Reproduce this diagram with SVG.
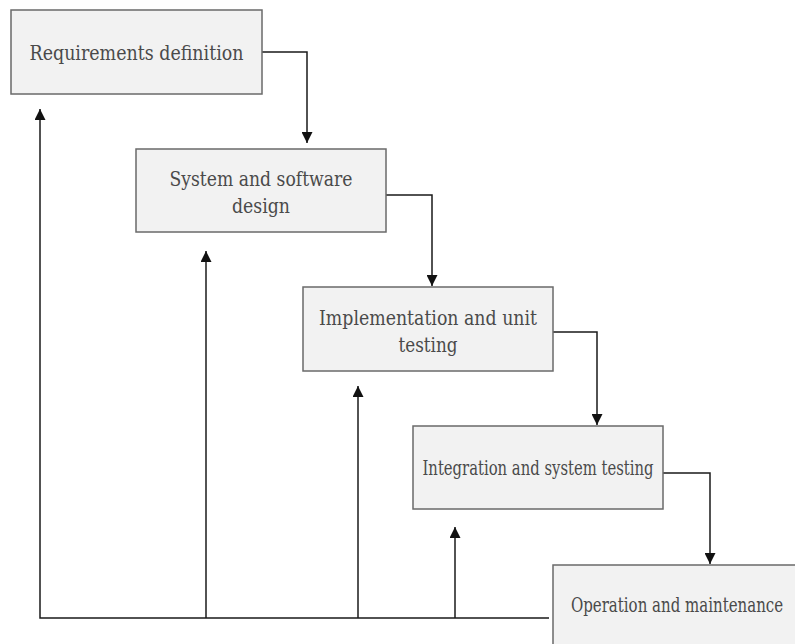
<svg xmlns="http://www.w3.org/2000/svg" width="795" height="644" viewBox="0 0 795 644">
<style>
.box{fill:#f2f2f2;stroke:#6a6a6a;stroke-width:1.5}
.lbl{font-family:"DejaVu Serif","Liberation Serif",Times,serif;font-size:20px;fill:#4a4a4a;text-anchor:middle}
.conn{fill:none;stroke:#1a1a1a;stroke-width:1.5}
</style>
<defs>
<marker id="ah" markerUnits="userSpaceOnUse" markerWidth="11" markerHeight="11" refX="10" refY="5" orient="auto" viewBox="0 0 10 10">
<path d="M0,0 L10,5 L0,10 z" fill="#111"/>
</marker>
</defs>
<rect width="795" height="644" fill="#ffffff"/>
<g id="connectors">
<path class="conn" d="M262,52 H307 V143" marker-end="url(#ah)"/>
<path class="conn" d="M386,195 H432 V286" marker-end="url(#ah)"/>
<path class="conn" d="M553,332 H597 V425" marker-end="url(#ah)"/>
<path class="conn" d="M663,473 H710 V564" marker-end="url(#ah)"/>
<path class="conn" d="M549,618 H40 V109" marker-end="url(#ah)"/>
<path class="conn" d="M206,618 V251" marker-end="url(#ah)"/>
<path class="conn" d="M358,618 V386" marker-end="url(#ah)"/>
<path class="conn" d="M455,618 V527" marker-end="url(#ah)"/>
</g>
<g id="requirements">
<rect class="box" x="11" y="10" width="251" height="84"/>
<text class="lbl" x="136.5" y="60" textLength="214" lengthAdjust="spacingAndGlyphs">Requirements definition</text>
</g>
<g id="design">
<rect class="box" x="136" y="149" width="250" height="83"/>
<text class="lbl" x="261" y="186" textLength="183" lengthAdjust="spacingAndGlyphs">System and software</text>
<text class="lbl" x="261" y="213" textLength="58" lengthAdjust="spacingAndGlyphs">design</text>
</g>
<g id="implementation">
<rect class="box" x="303" y="287" width="250" height="84"/>
<text class="lbl" x="428" y="325" textLength="218" lengthAdjust="spacingAndGlyphs">Implementation and unit</text>
<text class="lbl" x="428" y="352" textLength="59" lengthAdjust="spacingAndGlyphs">testing</text>
</g>
<g id="integration">
<rect class="box" x="413" y="426" width="250" height="83"/>
<text class="lbl" x="538" y="475" textLength="231" lengthAdjust="spacingAndGlyphs">Integration and system testing</text>
</g>
<g id="operation">
<rect class="box" x="553" y="565" width="243" height="80"/>
<text class="lbl" transform="translate(677,612) scale(0.75,1)" x="0" y="0" textLength="283" lengthAdjust="spacingAndGlyphs">Operation and maintenance</text>
</g>
</svg>
